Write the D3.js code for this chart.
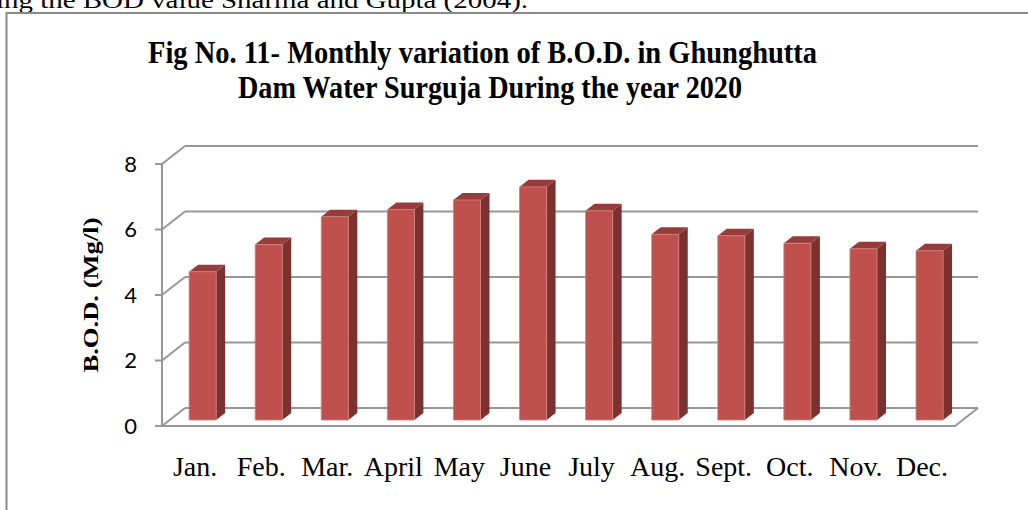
<!DOCTYPE html>
<html>
<head>
<meta charset="utf-8">
<script src="https://cdn.jsdelivr.net/npm/d3@7"></script>
<style>
  body { margin: 0; background: #fff; }
  svg { display: block; }
  .serif { font-family: "Liberation Serif", "Times New Roman", serif; }
  .tick-label { font-family: Lato, "Open Sans", sans-serif; font-size: 22px; fill: #000; }
</style>
</head>
<body>
<svg id="chart" width="1028" height="510"></svg>
<script>
// data
const months = ["Jan.", "Feb.", "Mar.", "April", "May", "June", "July", "Aug.", "Sept.", "Oct.", "Nov.", "Dec."]
const bod = [4.53, 5.36, 6.21, 6.43, 6.72, 7.12, 6.39, 5.67, 5.63, 5.40, 5.23, 5.17]
const yTicks = [0, 2, 4, 6, 8]
const titleLines = ["Fig No. 11- Monthly variation of B.O.D. in Ghunghutta", "Dam Water Surguja During the year 2020"]
const yLabel = "B.O.D. (Mg/l)"
const pageText = "ing the BOD value Sharma and Gupta (2004)."

const svg = d3.select("#chart")

// the 3d box: front plane and how far the back wall is pushed
const plotLeft = 162, plotRight = 955, plotBottom = 426, plotTop = 164
const depthX = 23, depthY = -18
const barFront = 0.33, barBack = 0.72

const x = d3.scaleBand()
  .domain(months)
  .range([plotLeft, plotRight])
  .paddingInner(0.59)
  .paddingOuter(0.295)

const y = d3.scaleLinear()
  .domain([0, 8])
  .range([plotBottom, plotTop])

// project a point (pixel x, value, depth 0..1) onto the page
const proj = (px, v, d) => [px + depthX * d, y(v) + depthY * d]
const poly = pts => "M" + pts.map(p => p.join(",")).join("L") + "Z"

// bit of body text cut off above the chart
svg.append("text")
  .attr("class", "serif")
  .attr("x", -4)
  .attr("y", 8)
  .attr("font-size", 24)
  .attr("textLength", 532)
  .attr("lengthAdjust", "spacingAndGlyphs")
  .text(pageText)

// chart frame
svg.append("path")
  .attr("d", "M6.5,510V13H1028")
  .attr("fill", "none")
  .attr("stroke", "#8a8a8a")
  .attr("stroke-width", 2)

// title (the scan is a little taller than plain Times)
const titlePos = [{x: 148, y: 63, len: 669}, {x: 238, y: 98, len: 504}]
svg.append("g")
  .selectAll("text")
  .data(titleLines)
  .join("text")
  .attr("class", "serif")
  .attr("transform", (d, i) => `translate(${titlePos[i].x},${titlePos[i].y}) scale(1,1.14)`)
  .attr("font-size", 28)
  .attr("font-weight", "bold")
  .attr("textLength", (d, i) => titlePos[i].len)
  .attr("lengthAdjust", "spacingAndGlyphs")
  .text(d => d)

const grid = svg.append("g")
  .attr("fill", "none")
  .attr("stroke", "#979797")
  .attr("stroke-width", 2)

// back wall gridlines
grid.selectAll(".back")
  .data(yTicks)
  .join("line")
  .attr("class", "back")
  .attr("x1", plotLeft + depthX).attr("x2", plotRight + depthX)
  .attr("y1", d => y(d) + depthY).attr("y2", d => y(d) + depthY)

// side wall diagonals
grid.selectAll(".side")
  .data(yTicks)
  .join("line")
  .attr("class", "side")
  .attr("x1", plotLeft).attr("x2", plotLeft + depthX)
  .attr("y1", d => y(d)).attr("y2", d => y(d) + depthY)

// front axis and ticks
grid.append("line")
  .attr("x1", plotLeft).attr("x2", plotLeft)
  .attr("y1", y(8)).attr("y2", y(0))
grid.selectAll(".tick")
  .data(yTicks)
  .join("line")
  .attr("class", "tick")
  .attr("x1", plotLeft - 7).attr("x2", plotLeft)
  .attr("y1", d => y(d)).attr("y2", d => y(d))

// floor front edge and right edge
grid.append("path")
  .attr("d", poly([proj(plotLeft, 0, 0), proj(plotRight, 0, 0), proj(plotRight, 0, 1)]).replace("Z", ""))

// tick labels
svg.append("g")
  .selectAll("text")
  .data(yTicks)
  .join("text")
  .attr("class", "tick-label")
  .attr("x", 137)
  .attr("y", d => y(d))
  .attr("dy", "0.36em")
  .attr("text-anchor", "end")
  .text(d => d)

// y axis title
svg.append("text")
  .attr("class", "serif")
  .attr("transform", "translate(98,295) rotate(-90)")
  .attr("text-anchor", "middle")
  .attr("font-size", 20)
  .attr("font-weight", "bold")
  .attr("textLength", 155)
  .attr("lengthAdjust", "spacingAndGlyphs")
  .text(yLabel)

// bars
const bars = svg.append("g")
  .selectAll("g")
  .data(months.map((m, i) => ({m, v: bod[i]})))
  .join("g")

bars.append("path")
  .attr("fill", "#7b3130")
  .attr("d", d => {
    const x1 = x(d.m) + x.bandwidth()
    return poly([proj(x1, 0, barFront), proj(x1, 0, barBack), proj(x1, d.v, barBack), proj(x1, d.v, barFront)])
  })

bars.append("path")
  .attr("fill", "#963c3a")
  .attr("d", d => {
    const x0 = x(d.m), x1 = x0 + x.bandwidth()
    return poly([proj(x0, d.v, barFront), proj(x1, d.v, barFront), proj(x1, d.v, barBack), proj(x0, d.v, barBack)])
  })

bars.append("path")
  .attr("fill", "#c0504d")
  .attr("stroke", "#d6817e")
  .attr("stroke-width", 0.8)
  .attr("d", d => {
    const x0 = x(d.m), x1 = x0 + x.bandwidth()
    return poly([proj(x0, 0, barFront), proj(x1, 0, barFront), proj(x1, d.v, barFront), proj(x0, d.v, barFront)])
  })

// month labels
svg.append("g")
  .selectAll("text")
  .data(months)
  .join("text")
  .attr("class", "serif")
  .attr("x", d => x(d) + x.bandwidth() / 2)
  .attr("y", 476)
  .attr("font-size", 28)
  .attr("text-anchor", "middle")
  .text(d => d)
</script>
</body>
</html>
